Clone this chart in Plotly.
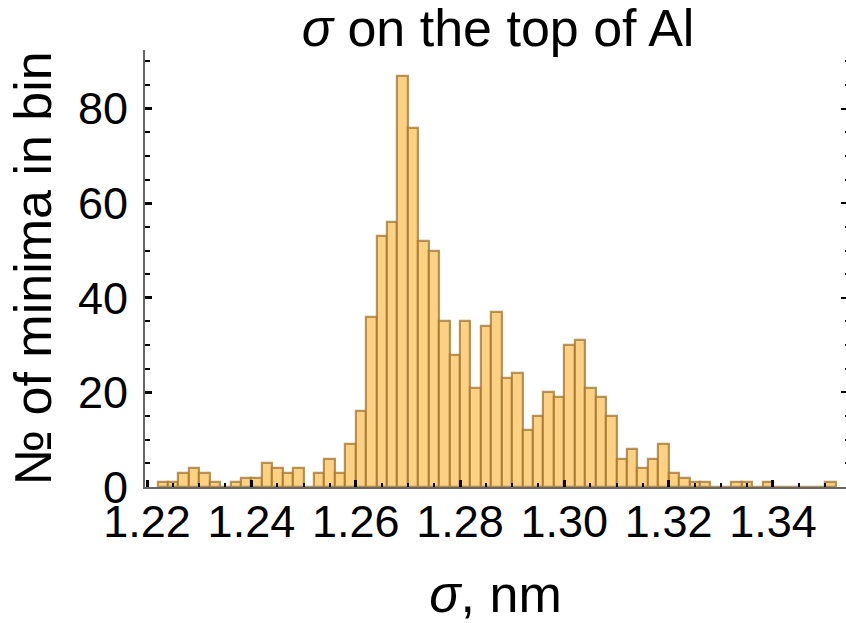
import plotly.graph_objects as go

# Histogram data: left edges of bins (width 0.002 nm) and counts
bin_width = 0.002
bin_lefts = [1.222, 1.224, 1.226, 1.228, 1.230, 1.232, 1.234, 1.236, 1.238, 1.240,
             1.242, 1.244, 1.246, 1.248, 1.250, 1.252, 1.254, 1.256, 1.258, 1.260,
             1.262, 1.264, 1.266, 1.268, 1.270, 1.272, 1.274, 1.276, 1.278, 1.280,
             1.282, 1.284, 1.286, 1.288, 1.290, 1.292, 1.294, 1.296, 1.298, 1.300,
             1.302, 1.304, 1.306, 1.308, 1.310, 1.312, 1.314, 1.316, 1.318, 1.320,
             1.322, 1.324, 1.326, 1.328, 1.330, 1.332, 1.334, 1.336, 1.338, 1.340,
             1.342, 1.344, 1.346, 1.348, 1.350]
counts = [1, 1, 3, 4, 3, 1, 0, 1, 2, 2,
          5, 4, 3, 4, 0, 3, 6, 3, 9, 16,
          36, 53, 56, 87, 76, 52, 50, 35, 28, 35,
          21, 34, 37, 23, 24, 12, 15, 20, 19, 30,
          31, 21, 19, 15, 6, 8, 4, 6, 9, 3,
          2, 1, 1, 0, 0, 1, 1, 0, 1, 0,
          0, 0, 0, 0, 1]

x_ticks = [1.22, 1.24, 1.26, 1.28, 1.30, 1.32, 1.34]
x_ticktext = ["1.22", "1.24", "1.26", "1.28", "1.30", "1.32", "1.34"]
y_ticks = [0, 20, 40, 60, 80]

x_range = [1.2196, 1.354]
y_range = [0, 92.4]

FONT = "Liberation Sans, Arial, sans-serif"

centers = [b + bin_width / 2 for b in bin_lefts]

fig = go.Figure()
fig.add_trace(go.Bar(
    x=centers, y=counts, width=bin_width,
    marker=dict(color="#FDD183", line=dict(color="rgba(165,120,50,0.78)", width=2.2)),
    showlegend=False,
))
# invisible trace to carry the right-hand tick axis
fig.add_trace(go.Scatter(x=[x_ticks[3]], y=[0], yaxis="y2", mode="markers",
                         marker=dict(opacity=0), hoverinfo="skip", showlegend=False))

fig.update_layout(
    width=846, height=623,
    margin=dict(l=145, r=0, t=50, b=136),
    paper_bgcolor="white", plot_bgcolor="white",
    bargap=0,
    font=dict(family=FONT, color="black"),
    title=dict(text="<i>σ</i> on the top of Al", font=dict(size=52, family=FONT, color="black"),
               x=498 / 846, xanchor="center", xref="container",
               y=1 - 28 / 623, yanchor="middle", yref="container"),
    xaxis=dict(
        range=x_range, showgrid=False, zeroline=False,
        showline=True, linecolor="#666666", linewidth=2,
        tickmode="array", tickvals=x_ticks, ticktext=x_ticktext,
        ticks="inside", ticklen=7, tickwidth=2.5, tickcolor="black",
        minor=dict(dtick=0.005, tick0=1.22, ticks="inside", ticklen=4.5, tickwidth=2, tickcolor="black"),
        tickfont=dict(size=45, family=FONT, color="black"),
        ticklabelstandoff=-6,
        title=dict(text="<i>σ</i>, nm", font=dict(size=52, family=FONT, color="black"), standoff=30),
    ),
    yaxis=dict(
        range=y_range, showgrid=False, zeroline=False,
        showline=True, linecolor="#666666", linewidth=2,
        tickmode="array", tickvals=y_ticks,
        ticks="inside", ticklen=7, tickwidth=2.5, tickcolor="black",
        minor=dict(dtick=5, tick0=0, ticks="inside", ticklen=4.5, tickwidth=2, tickcolor="black"),
        tickfont=dict(size=45, family=FONT, color="black"),
        ticklabelstandoff=6,
        title=dict(text="№ of minima in bin", font=dict(size=52, family=FONT, color="black"), standoff=10),
    ),
    yaxis2=dict(
        range=y_range, overlaying="y", side="right", anchor="x",
        showgrid=False, zeroline=False, showline=False, showticklabels=False,
        tickmode="array", tickvals=y_ticks,
        ticks="inside", ticklen=5, tickwidth=2, tickcolor="black",
        minor=dict(dtick=5, tick0=0, ticks="inside", ticklen=1.5, tickwidth=2, tickcolor="black"),
    ),
)

fig.write_html("out.html")
